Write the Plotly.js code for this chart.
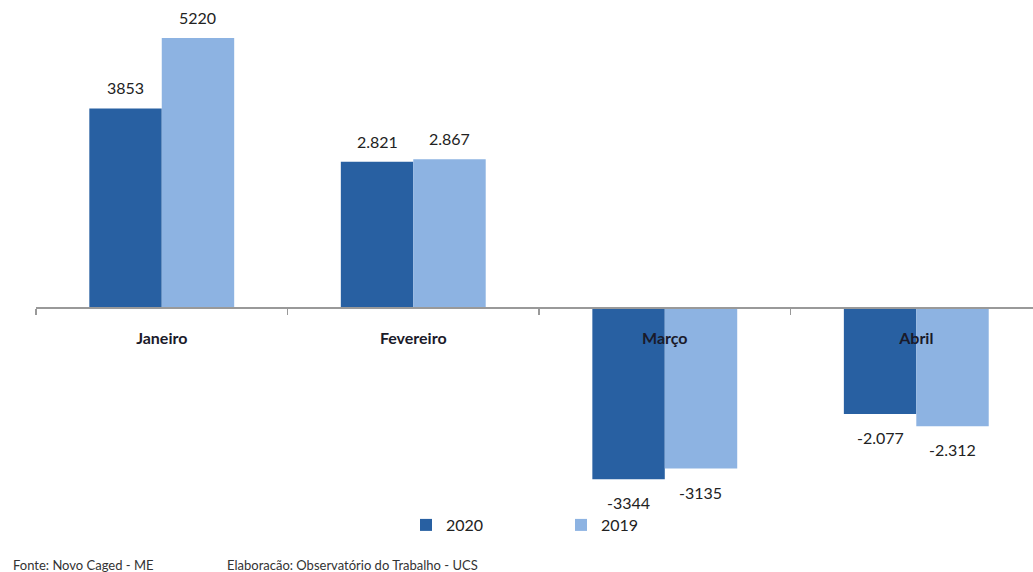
<!DOCTYPE html>
<html>
<head>
<meta charset="utf-8">
<script src="https://cdn.plot.ly/plotly-3.0.1.min.js"></script>
<style>html,body{margin:0;padding:0;background:#fff;}#chart{width:1033px;height:572px;}</style>
</head>
<body>
<div id="chart"></div>
<script>
const months = ["Janeiro", "Fevereiro", "Março", "Abril"];
const values2020 = [3853, 2821, -3344, -2077];
const values2019 = [5220, 2867, -3135, -2312];
const labels2020 = ["3853", "2.821", "-3344", "-2.077"];
const labels2019 = ["5220", "2.867", "-3135", "-2.312"];
const seriesNames = ["2020", "2019"];
const colors = ["#2860A2", "#8DB3E2"];

const FONT = "Lato, 'Open Sans', sans-serif";
const barOffset = 0.143;
const H = 572;

const traces = [
  {type: "bar", name: seriesNames[0], x: months, y: values2020, marker: {color: colors[0]}, hoverinfo: "skip"},
  {type: "bar", name: seriesNames[1], x: months, y: values2019, marker: {color: colors[1]}, hoverinfo: "skip"}
];

const annotations = [];
[[values2020, labels2020, -barOffset], [values2019, labels2019, barOffset]].forEach(([vals, labs, off]) => {
  vals.forEach((v, i) => {
    annotations.push({
      xref: "x", yref: "y", x: i + off, y: v, text: labs[i], showarrow: false,
      yanchor: v >= 0 ? "bottom" : "top", yshift: v >= 0 ? 9 : -12,
      font: {family: FONT, size: 16, color: "#222"}
    });
  });
});
annotations.push({xref: "paper", yref: "paper", x: -25/997, y: (H-565)/H, xanchor: "left", yanchor: "middle",
  text: "Fonte: Novo Caged - ME", showarrow: false, font: {family: FONT, size: 13, color: "#333"}});
annotations.push({xref: "paper", yref: "paper", x: (225-36)/997, y: (H-565)/H, xanchor: "left", yanchor: "middle",
  text: "Elaboracão: Observatório do Trabalho - UCS", showarrow: false, font: {family: FONT, size: 13, color: "#333"}});

const layout = {
  width: 1033, height: H,
  margin: {l: 36, r: 0, t: 0, b: 0},
  paper_bgcolor: "#fff", plot_bgcolor: "#fff",
  barmode: "group", bargap: 0.424, bargroupgap: 0,
  showlegend: true,
  legend: {orientation: "h", x: (406-36)/997, y: (H-525)/H, xanchor: "left", yanchor: "middle",
    font: {family: FONT, size: 16, color: "#222"}, entrywidth: 110, itemwidth: 30, bgcolor: "rgba(0,0,0,0)"},
  xaxis: {
    type: "category", range: [-0.5, 3.464],
    anchor: "free", position: (H-307)/H,
    showline: true, linecolor: "#999", linewidth: 1.5,
    ticks: "outside", tickson: "boundaries", ticklen: 6, tickcolor: "#999", tickwidth: 1.5,
    showgrid: false, zeroline: false,
    tickfont: {family: FONT, size: 16, color: "#1a1a2a", weight: "bold"},
    ticklabelstandoff: 16
  },
  yaxis: {
    domain: [72/H, 1], range: [-3745, 5958],
    visible: false, showgrid: false, zeroline: false
  },
  annotations: annotations
};

Plotly.newPlot("chart", traces, layout, {staticPlot: true});
</script>
</body>
</html>
